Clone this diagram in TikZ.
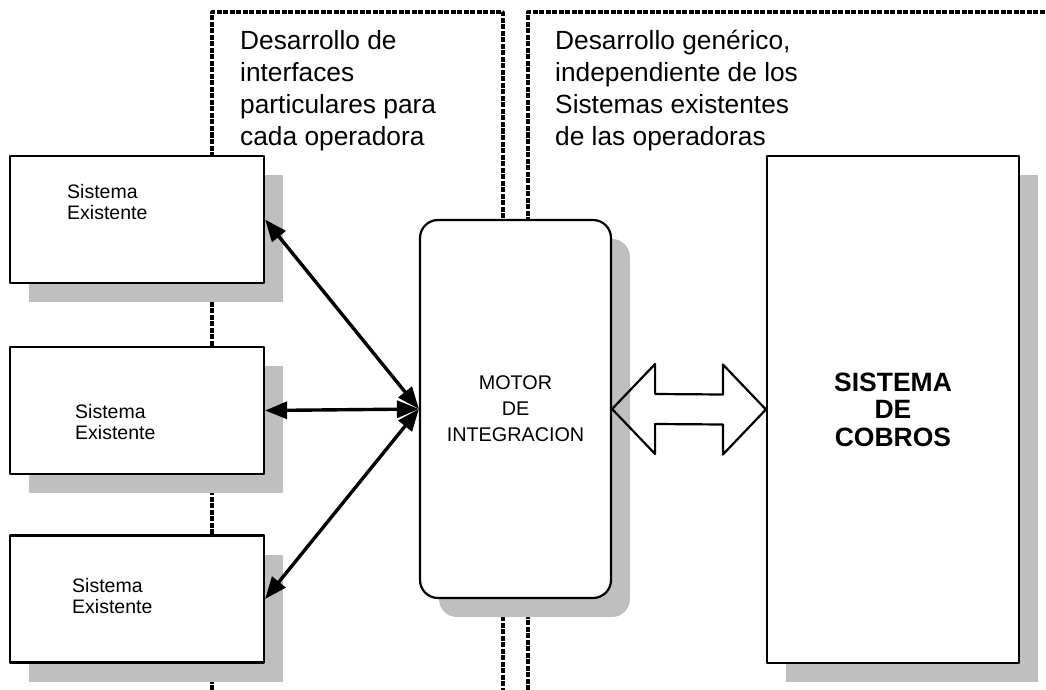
\documentclass[tikz,border=0pt]{standalone}
\usepackage{fontspec}
\setmainfont{Liberation Sans}
\usetikzlibrary{arrows.meta,shadows,calc}

\begin{document}
\begin{tikzpicture}[x=1pt,y=-1pt,line join=round,
 sombra/.style={drop shadow={shadow xshift=19pt,shadow yshift=-19pt,fill=black!25,opacity=1}},
 caja/.style={draw,line width=2.2pt,fill=white,inner sep=0pt,sombra},
 sisbox/.style={caja,minimum width=254pt,minimum height=127pt},
 etiq/.style={anchor=north west,inner sep=0pt,align=left,font=\fontsize{19.5}{21.5}\selectfont},
 nota/.style={anchor=north west,inner sep=0pt,align=left,font=\fontsize{26.3}{32}\selectfont},
 zona/.style={line width=3.4pt,dash pattern=on 5pt off 1.5pt},
 flecha/.style={line width=3.4pt,{Triangle[length=22pt,width=17pt]}-{Triangle[length=22pt,width=17pt]}},
 ]
 \useasboundingbox (0,0) rectangle (1046,690);
 % zonas de desarrollo
 \draw[zona] (212,690) -- (212,12) -- (503,12) -- (503,690);
 \draw[zona] (528,690) -- (528,12) -- (1046,12);
 \node[nota] (izq) at (240,30) {Desarrollo de\\interfaces\\particulares para\\cada operadora};
 \node[nota] (der) at (555,30) {Desarrollo genérico,\\independiente de los\\Sistemas existentes\\de las operadoras};
 % sistemas existentes
 \node[sisbox] (sis1) at (137,219.5) {};
 \node[sisbox] (sis2) at (137,410.5) {};
 \node[sisbox] (sis3) at (137,599) {};
 \node[etiq] (e1) at (67,184) {Sistema\\Existente};
 \node[etiq] (e2) at (75,404) {Sistema\\Existente};
 \node[etiq] (e3) at (72,578) {Sistema\\Existente};
 % motor y cobros
 \node[caja,rounded corners=18pt,minimum width=191pt,minimum height=378pt,align=center,
   font=\fontsize{19.8}{26}\selectfont] (motor) at (515.5,409) {MOTOR\\DE\\INTEGRACION};
 \node[caja,minimum width=252pt,minimum height=507pt,align=center,
   font=\fontsize{26.5}{27.5}\selectfont\bfseries] (cobros) at (893,409.5) {SISTEMA\\DE\\COBROS};
 % conexiones
 \draw[flecha] (sis1.east) -- (motor.west);
 \draw[flecha] (sis2.east) -- (motor.west);
 \draw[flecha] (sis3.east) -- (motor.west);
 \draw[line width=2.2pt] (motor.east) -- ++(43,-45) -- ++(0,30)
   -- ($(cobros.west)+(-43,-15)$) -- ++(0,-30) -- (cobros.west)
   -- ++(-43,45) -- ++(0,-30) -- ($(motor.east)+(43,15)$) -- ++(0,30) -- cycle;
\end{tikzpicture}
\end{document}
